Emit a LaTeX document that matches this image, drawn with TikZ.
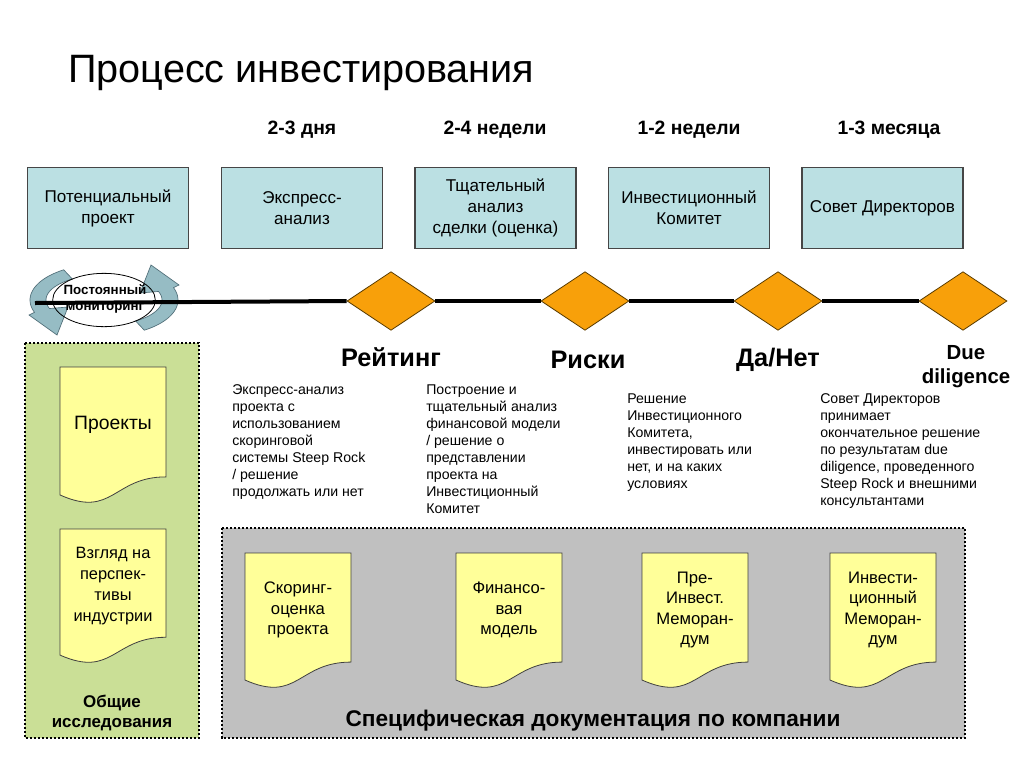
\documentclass[tikz,border=0pt]{standalone}
\usepackage{fontspec}
\setmainfont{Liberation Sans}
\usetikzlibrary{shapes.geometric}
\definecolor{boxfill}{RGB}{187,224,227}
\definecolor{boxline}{RGB}{70,70,70}
\definecolor{diafill}{RGB}{248,160,10}
\definecolor{dialine}{RGB}{90,60,0}
\definecolor{greenbg}{RGB}{202,223,150}
\definecolor{graybg}{RGB}{192,192,192}
\definecolor{docfill}{RGB}{255,255,153}
\definecolor{arrfill}{RGB}{150,188,196}
\definecolor{arrline}{RGB}{80,110,120}
\tikzset{
  topbox/.style={draw=boxline, fill=boxfill, line width=0.8pt, minimum width=120.75pt, minimum height=60.75pt, inner sep=0pt, align=center, font=\fontsize{12.8}{15.75}\selectfont},
  dur/.style={anchor=base, inner sep=0pt, font=\fontsize{14.5}{17}\selectfont\bfseries},
  milestone/.style={diamond, aspect=1.5, draw=dialine, fill=diafill, line width=0.6pt, minimum width=66pt, minimum height=44pt, inner sep=0pt},
  mlabel/.style={anchor=base, inner sep=0pt, font=\fontsize{19}{22}\selectfont\bfseries},
  desc/.style={anchor=north west, align=left, inner sep=0pt, font=\fontsize{10.6}{12.75}\selectfont},
  dotbox/.style={draw=black, line width=2pt, dash pattern=on 1.6pt off 1.4pt},
  docshape/.style={draw=black!75, fill=docfill, line width=0.6pt},
  doctext/.style={align=center, inner sep=0pt, font=\fontsize{12.5}{15.3}\selectfont},
  arrband/.style={draw=arrline, fill=arrfill, line width=0.5pt},
  timeline/.style={line width=3pt, draw=black},
}
\newcommand\docu[7][]{%
  \draw[docshape] (#3,#4) -- ({#3+#5},#4) -- ({#3+#5},{#4+0.802*#6})
    .. controls ({#3+0.5*#5},{#4+0.802*#6}) and ({#3+0.5*#5},{#4+1.107*#6}) .. (#3,{#4+0.934*#6}) -- cycle;
  \node[doctext, #1] (#2) at ({#3+0.5*#5},{#4+0.42*#6}) {#7};
}
\newcommand\monband{%
  \draw[arrband] plot[domain=237:160, samples=25, variable=\t] ({104+74*cos(\t)},{300+36*sin(\t)})
    -- (29,315) -- (57,335) -- (68,307)
    -- plot[domain=160:237, samples=25, variable=\t] ({104+58*cos(\t)},{300+25*sin(\t)}) -- cycle;
}
\begin{document}
\begin{tikzpicture}[x=0.75pt, y=-0.75pt]
\useasboundingbox (0,0) rectangle (1024,768);
\fill[white] (0,0) rectangle (1024,768);

% title
\node[anchor=base west, inner sep=0pt, font=\fontsize{29.7}{34}\selectfont] (title) at (68,82) {Процесс инвестирования};

% durations
\node[dur] (t2) at (302,134) {2-3 дня};
\node[dur] (t3) at (495,134) {2-4 недели};
\node[dur] (t4) at (689,134) {1-2 недели};
\node[dur] (t5) at (889,134) {1-3 месяца};

% top boxes
\node[topbox] (b1) at (108,208) {Потенциальный\\проект};
\node[topbox] (b2) at (302,208) {Экспресс-\\анализ};
\node[topbox] (b3) at (495.5,208) {Тщательный\\анализ\\сделки (оценка)};
\node[topbox] (b4) at (689,208) {Инвестиционный\\Комитет};
\node[topbox] (b5) at (882.5,208) {Совет Директоров};

% background panels
\draw[dotbox, fill=greenbg] (25,343) rectangle (199,738);
\draw[dotbox, fill=graybg] (222,528) rectangle (965,738);

% monitoring arrows
\monband
\begin{scope}[rotate around={180:(104,300)}]
\monband
\end{scope}

% timeline
\coordinate (tstart) at (35,303);
\node[milestone] (d1) at (391,301) {};
\node[milestone] (d2) at (585,301) {};
\node[milestone] (d3) at (778,301) {};
\node[milestone] (d4) at (963,301) {};
\draw[timeline] (tstart) -- (d1.west);
\draw[timeline] (d1.east) -- (d2.west);
\draw[timeline] (d2.east) -- (d3.west);
\draw[timeline] (d3.east) -- (d4.west);

\node[ellipse, draw=black, line width=0.6pt, minimum width=77pt, minimum height=40pt, inner sep=0pt] (mon) at (104,300) {};
\node[align=center, inner sep=0pt, font=\fontsize{10}{12}\selectfont\bfseries] (montext) at (105,299) {Постоянный\\мониторинг};

% milestone labels
\node[mlabel] (l1) at (391,366) {Рейтинг};
\node[mlabel] (l2) at (588,368) {Риски};
\node[mlabel] (l3) at (778,366) {Да/Нет};
\node[anchor=north, align=center, inner sep=0pt, font=\fontsize{15.3}{18}\selectfont\bfseries] (l4) at (966,345) {Due\\diligence};

% descriptions
\node[desc] (c1) at (232,384.5) {Экспресс-анализ\\проекта с\\использованием\\скоринговой\\системы Steep Rock\\/ решение\\продолжать или нет};
\node[desc] (c2) at (426,384.5) {Построение и\\тщательный анализ\\финансовой модели\\/ решение о\\представлении\\проекта на\\Инвестиционный\\Комитет};
\node[desc] (c3) at (627,393.5) {Решение\\Инвестиционного\\Комитета,\\инвестировать или\\нет, и на каких\\условиях};
\node[desc] (c4) at (820,393.5) {Совет Директоров\\принимает\\окончательное решение\\по результатам due\\diligence, проведенного\\Steep Rock и внешними\\консультантами};

% green panel documents
\docu[font=\fontsize{14.5}{17}\selectfont]{g1}{60}{367}{106}{137}{Проекты}
\docu[font=\fontsize{12.3}{15.75}\selectfont]{g2}{60}{529}{106}{135}{Взгляд на\\перспек-\\тивы\\индустрии}
\node[align=center, inner sep=0pt, font=\fontsize{12.7}{15}\selectfont\bfseries] (gcap) at (112,713) {Общие\\исследования};

% gray panel documents
\docu{s1}{245}{553}{106}{136}{Скоринг-\\оценка\\проекта}
\docu{s2}{456}{553}{106}{136}{Финансо-\\вая\\модель}
\docu{s3}{642}{553}{106}{136}{Пре-\\Инвест.\\Меморан-\\дум}
\docu{s4}{830}{553}{106}{136}{Инвести-\\ционный\\Меморан-\\дум}
\node[inner sep=0pt, font=\fontsize{17}{20}\selectfont\bfseries] (scap) at (593,721) {Специфическая документация по компании};
\end{tikzpicture}
\end{document}
